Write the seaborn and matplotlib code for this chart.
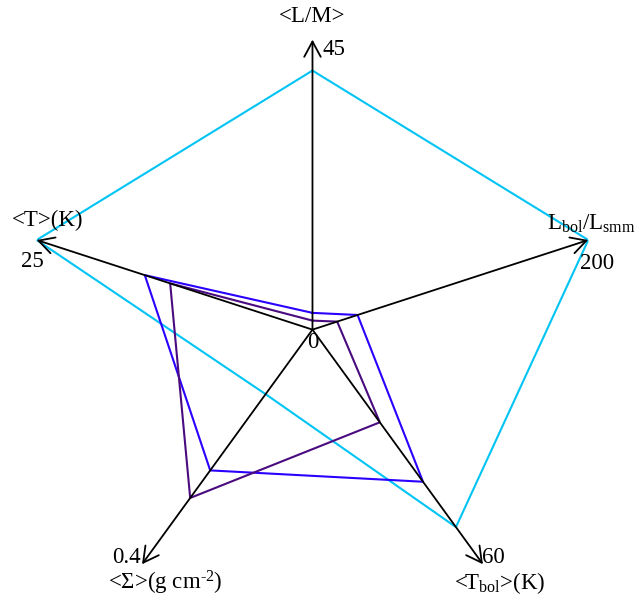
import numpy as np
import pandas as pd
import matplotlib
matplotlib.use("Agg")
import matplotlib.pyplot as plt
import seaborn as sns

# axes of the radar, going round clockwise from the top
axis_labels = ["<L/M>", r"L$_{\rm bol}$/L$_{\rm smm}$", r"<T$_{\rm bol}$>(K)",
               r"<Σ>(g cm$^{\text{-2}}$)", "<T>(K)"]
axis_max = [45, 200, 60, 0.4, 25]
axis_max_labels = ["45", "200", "60", "0.4", "25"]
axis_angles_deg = [90, 18, -54, -126, 162]

# values of the three groups on each axis
cyan_vals = [40.2, 200, 50.5, 0.11, 25]
blue_vals = [2.6, 32.7, 38.9, 0.24, 15.2]
purple_vals = [1.4, 17.9, 23.7, 0.287, 12.9]

palette = {"cyan": "#00c4f4", "blue": "#2b00ff", "purple": "#4a0a80"}

sns.set_style("white")
plt.rcParams["font.family"] = ["Liberation Serif", "DejaVu Serif"]
plt.rcParams["text.color"] = "black"
plt.rcParams["mathtext.fontset"] = "custom"
plt.rcParams["mathtext.rm"] = "Liberation Serif"
plt.rcParams["mathtext.it"] = "Liberation Serif:italic"

theta = np.deg2rad(axis_angles_deg)
rows = []
for name, vals in [("cyan", cyan_vals), ("blue", blue_vals), ("purple", purple_vals)]:
    r = np.array(vals) / np.array(axis_max)
    for i in list(range(len(vals))) + [0]:
        rows.append({"group": name, "theta": theta[i], "r": r[i]})
df = pd.DataFrame(rows)

fig = plt.figure(figsize=(6.37, 5.97), dpi=100)
fig.patch.set_facecolor("white")
ax = fig.add_axes([0.0353, -0.0379, 0.9105, 0.9715], projection="polar")
ax.set_ylim(0, 1)
ax.axis("off")

sns.lineplot(data=df, x="theta", y="r", hue="group", palette=palette, sort=False,
             estimator=None, linewidth=1.5, legend=False, ax=ax)

fs = 16.5
# arrows for each axis
for t in theta:
    ax.annotate("", xy=(t, 1), xytext=(t, 0), annotation_clip=False,
                arrowprops=dict(arrowstyle="->,head_length=0.5,head_width=0.27",
                                mutation_scale=22, lw=1.3, color="black",
                                shrinkA=0, shrinkB=0), zorder=5)

name_off = [(0, 23, "center"), (3, 10, "baseline"), (17, -25, "baseline"),
            (23, -25, "baseline"), (11, 20, "center")]
max_off = [(10, -10, "left"), (9, -23, "center"), (10, 7, "center"),
           (-16, 7, "center"), (-4, -21, "center")]

for t, lab, (dx, dy, va) in zip(theta, axis_labels, name_off):
    ax.annotate(lab, xy=(t, 1), xytext=(dx, dy), textcoords="offset pixels",
                ha="center", va=va, fontsize=fs, color="black", annotation_clip=False)
for t, lab, (dx, dy, ha) in zip(theta, axis_max_labels, max_off):
    ax.annotate(lab, xy=(t, 1), xytext=(dx, dy), textcoords="offset pixels",
                ha=ha, va="center", fontsize=fs, color="black", annotation_clip=False)
ax.annotate("0", xy=(0, 0), xytext=(0, -13), textcoords="offset pixels",
            ha="center", va="center", fontsize=fs, color="black", annotation_clip=False)

fig.savefig("out.png", dpi=100)
